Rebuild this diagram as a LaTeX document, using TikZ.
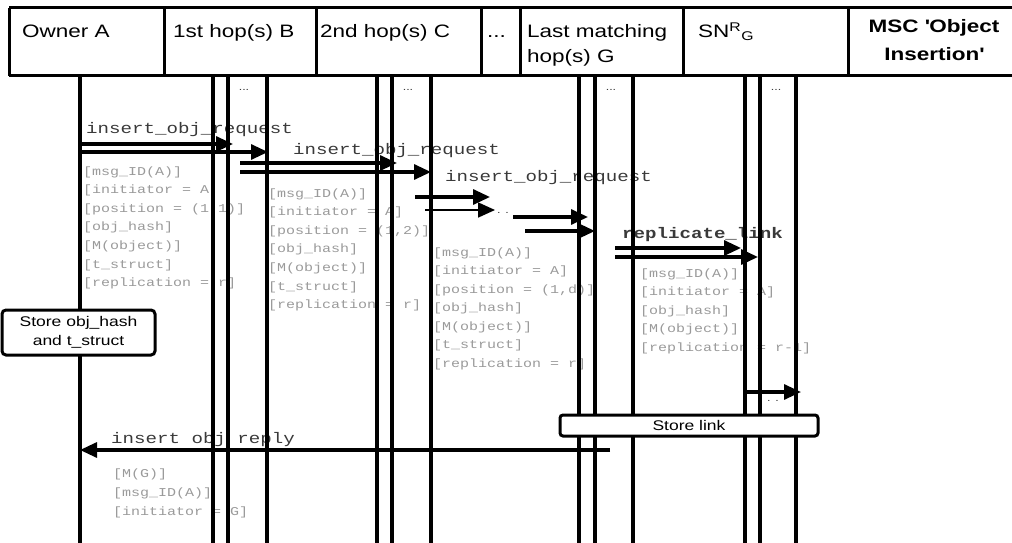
\documentclass[tikz,border=0pt]{standalone}
\usepackage{fontspec}
\setmainfont{Liberation Sans}[FakeStretch=1.25]
\setmonofont{Liberation Mono}[FakeStretch=1.25]
\usetikzlibrary{arrows.meta}
\definecolor{paramgray}{HTML}{9A9A9A}
\definecolor{msggray}{HTML}{3A3A3A}
\tikzset{
  life/.style={line width=3.4pt},
  frame/.style={line width=3pt},
  msg/.style={line width=3.2pt,-{Triangle[length=17pt,width=15pt]}},
  thinmsg/.style={line width=1.8pt,-{Triangle[length=17pt,width=15pt]}},
  param/.style={anchor=base west,inner sep=0pt,text=paramgray,font=\ttfamily\fontsize{12}{14}\selectfont},
  msglabel/.style={anchor=base west,inner sep=0pt,text=msggray,font=\ttfamily\fontsize{15.3}{18}\selectfont},
  head/.style={anchor=base west,inner sep=0pt,font=\fontsize{18}{22}\selectfont},
  dotsmall/.style={inner sep=0pt,text=msggray,font=\fontsize{10}{12}\selectfont},
  actbox/.style={draw,line width=3pt,fill=white,rounded corners=4pt,inner sep=0pt,font=\fontsize{14}{19}\selectfont,align=center},
}
\begin{document}
\begin{tikzpicture}[x=1pt,y=-1pt]
\useasboundingbox (0,0) rectangle (1012,543);

% ---------- header ----------
\draw[frame] (9,8) -- (1013,8);
\draw[frame] (9,76) -- (1013,76);
\draw[frame] (9,8) -- (9,76);
\foreach \x in {164,316,481,520,683,848} \draw[frame] (\x,8) -- (\x,76);
\node[head] (hA) at (22,38) {Owner A};
\node[head] (hB) at (173,38) {1st hop(s) B};
\node[head] (hC) at (320,38) {2nd hop(s) C};
\node[head] (hD) at (487,38) {...};
\node[head] (hG1) at (527,38) {Last matching};
\node[head] (hG2) at (527,63) {hop(s) G};
\node[head] (hS) at (698,38) {SN\textsuperscript{R}\textsubscript{G}};
\node[anchor=base,inner sep=0pt,font=\bfseries\fontsize{18}{22}\selectfont] (hM1) at (934,33) {MSC \textquotesingle Object};
\node[anchor=base,inner sep=0pt,font=\bfseries\fontsize{18}{22}\selectfont] (hM2) at (934,60) {Insertion\textquotesingle};

% ---------- small dots under header ----------
\node[dotsmall] (dB) at (244,90) {...};
\node[dotsmall] (dC) at (408,90) {...};
\node[dotsmall] (dG) at (611,90) {...};
\node[dotsmall] (dS) at (776,90) {...};

% ---------- message labels ----------
\node[msglabel] (l1) at (86,133) {insert\_obj\_request};
\node[msglabel] (l2) at (293,154) {insert\_obj\_request};
\node[msglabel] (l3) at (445,181) {insert\_obj\_request};
\node[msglabel,font=\ttfamily\bfseries\fontsize{15.3}{18}\selectfont] (l4) at (622,238) {replicate\_link};
\node[msglabel] (l5) at (111,443) {insert obj reply};

% ---------- parameter lists ----------
\foreach \t [count=\i from 0] in {{[msg\_ID(A)]},{[initiator = A]},{[position = (1,1)]},{[obj\_hash]},{[M(object)]},{[t\_struct]},{[replication = r]}}
  \node[param] (pa\i) at (83,{175+\i*18.6}) {\t};
\foreach \t [count=\i from 0] in {{[msg\_ID(A)]},{[initiator = A]},{[position = (1,2)]},{[obj\_hash]},{[M(object)]},{[t\_struct]},{[replication = r]}}
  \node[param] (pb\i) at (268,{197+\i*18.6}) {\t};
\foreach \t [count=\i from 0] in {{[msg\_ID(A)]},{[initiator = A]},{[position = (1,d)]},{[obj\_hash]},{[M(object)]},{[t\_struct]},{[replication = r]}}
  \node[param] (pc\i) at (433,{256+\i*18.5}) {\t};
\foreach \t [count=\i from 0] in {{[msg\_ID(A)]},{[initiator = A]},{[obj\_hash]},{[M(object)]},{[replication = r-1]}}
  \node[param] (pd\i) at (640,{277+\i*18.6}) {\t};
\foreach \t [count=\i from 0] in {{[M(G)]},{[msg\_ID(A)]},{[initiator = G]}}
  \node[param] (pe\i) at (113,{477+\i*19}) {\t};

% ---------- lifelines ----------
\foreach \x in {80,213,228,267,377,392,431,579,595,633,745,760,796}
  \draw[life] (\x,76) -- (\x,543);

% ---------- messages ----------
\coordinate (m1a) at (80,144);  \coordinate (m1b) at (233,144);
\coordinate (m1c) at (80,152);  \coordinate (m1d) at (268,152);
\draw[msg] (m1a) -- (m1b);
\draw[msg] (m1c) -- (m1d);

\coordinate (m2a) at (240,163); \coordinate (m2b) at (397,163);
\coordinate (m2c) at (240,172); \coordinate (m2d) at (431,172);
\draw[msg] (m2a) -- (m2b);
\draw[msg] (m2c) -- (m2d);

\coordinate (m3a) at (415,197); \coordinate (m3b) at (490,197);
\coordinate (m3c) at (425,210); \coordinate (m3d) at (495,210);
\draw[msg] (m3a) -- (m3b);
\draw[thinmsg] (m3c) -- (m3d);
\node[dotsmall] (d3) at (503,213) {. .};

\coordinate (m3e) at (513,217); \coordinate (m3f) at (588,217);
\coordinate (m3g) at (525,231); \coordinate (m3h) at (595,231);
\draw[msg] (m3e) -- (m3f);
\draw[msg] (m3g) -- (m3h);

\coordinate (m4a) at (615,248); \coordinate (m4b) at (741,248);
\coordinate (m4c) at (615,257); \coordinate (m4d) at (758,257);
\draw[msg] (m4a) -- (m4b);
\draw[msg] (m4c) -- (m4d);

\coordinate (m5a) at (744,392); \coordinate (m5b) at (801,392);
\draw[msg] (m5a) -- (m5b);
\node[dotsmall] (d5) at (773,401) {. .};

\coordinate (r1a) at (610,450); \coordinate (r1b) at (80,450);
\draw[msg] (r1a) -- (r1b);

% ---------- action boxes ----------
\node[actbox,minimum width=153pt,minimum height=45pt] (store1) at (78.5,332.5) {Store obj\_hash\\and t\_struct};
\node[actbox,rounded corners=3pt,minimum width=258pt,minimum height=21pt] (store2) at (689,425.5) {Store link};
\end{tikzpicture}
\end{document}
